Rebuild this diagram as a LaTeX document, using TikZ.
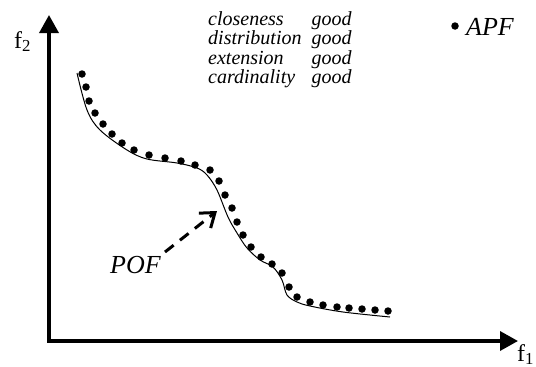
\documentclass[tikz,border=0pt]{standalone}
\usepackage{fontspec}
\setmainfont{Liberation Serif}
\usetikzlibrary{arrows.meta,positioning}

\tikzset{
  axisline/.style={line width=3.5pt, -{Triangle[length=18pt, width=19pt]}},
  apfdot/.style={circle, fill=black, inner sep=0pt, minimum size=7.5pt},
  pofline/.style={line width=1pt},
  pofarrow/.style={line width=3pt, dash pattern=on 11pt off 8pt,
    -{Straight Barb[length=13pt, width=19pt]}},
  bigit/.style={font=\fontsize{26}{28}\selectfont\itshape, inner sep=0pt}
}

\begin{document}
\begin{tikzpicture}[x=1pt, y=-1pt]
  \useasboundingbox (0,0) rectangle (536,367);

  % Axes
  \coordinate (origin) at (49,341);
  \coordinate (ytop) at (49,15);
  \coordinate (xend) at (518,341);
  \draw[axisline] ([yshift=-1.75pt]origin) -- (ytop);
  \draw[axisline] ([xshift=-1.75pt]origin) -- (xend);
  \node[anchor=base west, inner sep=0pt, font=\fontsize{24}{26}\selectfont]
    (ftwo) at (14,48) {f\textsubscript{2}};
  \node[anchor=base west, inner sep=0pt, font=\fontsize{24}{26}\selectfont]
    (fone) at (517,361) {f\textsubscript{1}};

  % True Pareto front
  \draw[pofline] plot[smooth, tension=0.55] coordinates {
    (77,73) (87,110) (100,130) (127,150) (147,159) (177,163) (197,168)
    (207,175) (217,190) (228,217) (237,233) (247,248) (260,260) (273,267)
    (282,280) (287,295) (297,302) (310,306) (343,312) (390,317)};

  % Approximation points
  \foreach \p [count=\i] in {(82,74),(86,87),(89,101),(95,113),(103,124),
      (112,134),(122,143),(134,150),(149,155),(165,158),(181,161),(195,165),
      (210,170),(219,181),(225,195),(232,208),(237,222),(243,235),(251,247),
      (261,257),(272,264),(282,273),(289,287),(297,297),(310,302),(323,305),
      (337,307),(349,308),(362,309),(375,310),(388,311)}
    \node[apfdot] (d\i) at \p {};

  % Quality table
  \node[anchor=base west, inner sep=0pt, font=\fontsize{20}{19}\selectfont\itshape]
    (quality) at (208,25) {\begin{tabular}[t]{@{}l@{\hspace{10pt}}l@{}}
      closeness & good\\
      distribution & good\\
      extension & good\\
      cardinality & good
    \end{tabular}};

  % Legend
  \node[apfdot] (legdot) at (455,26) {};
  \node[bigit, anchor=base west] (apf) at (466,35) {APF};

  % POF label
  \node[bigit, anchor=base west] (pof) at (110,273) {POF};
  \coordinate (pofstart) at (165,252);
  \coordinate (poftip) at (217,211);
  \draw[pofarrow] (pofstart) -- (poftip);
\end{tikzpicture}
\end{document}
